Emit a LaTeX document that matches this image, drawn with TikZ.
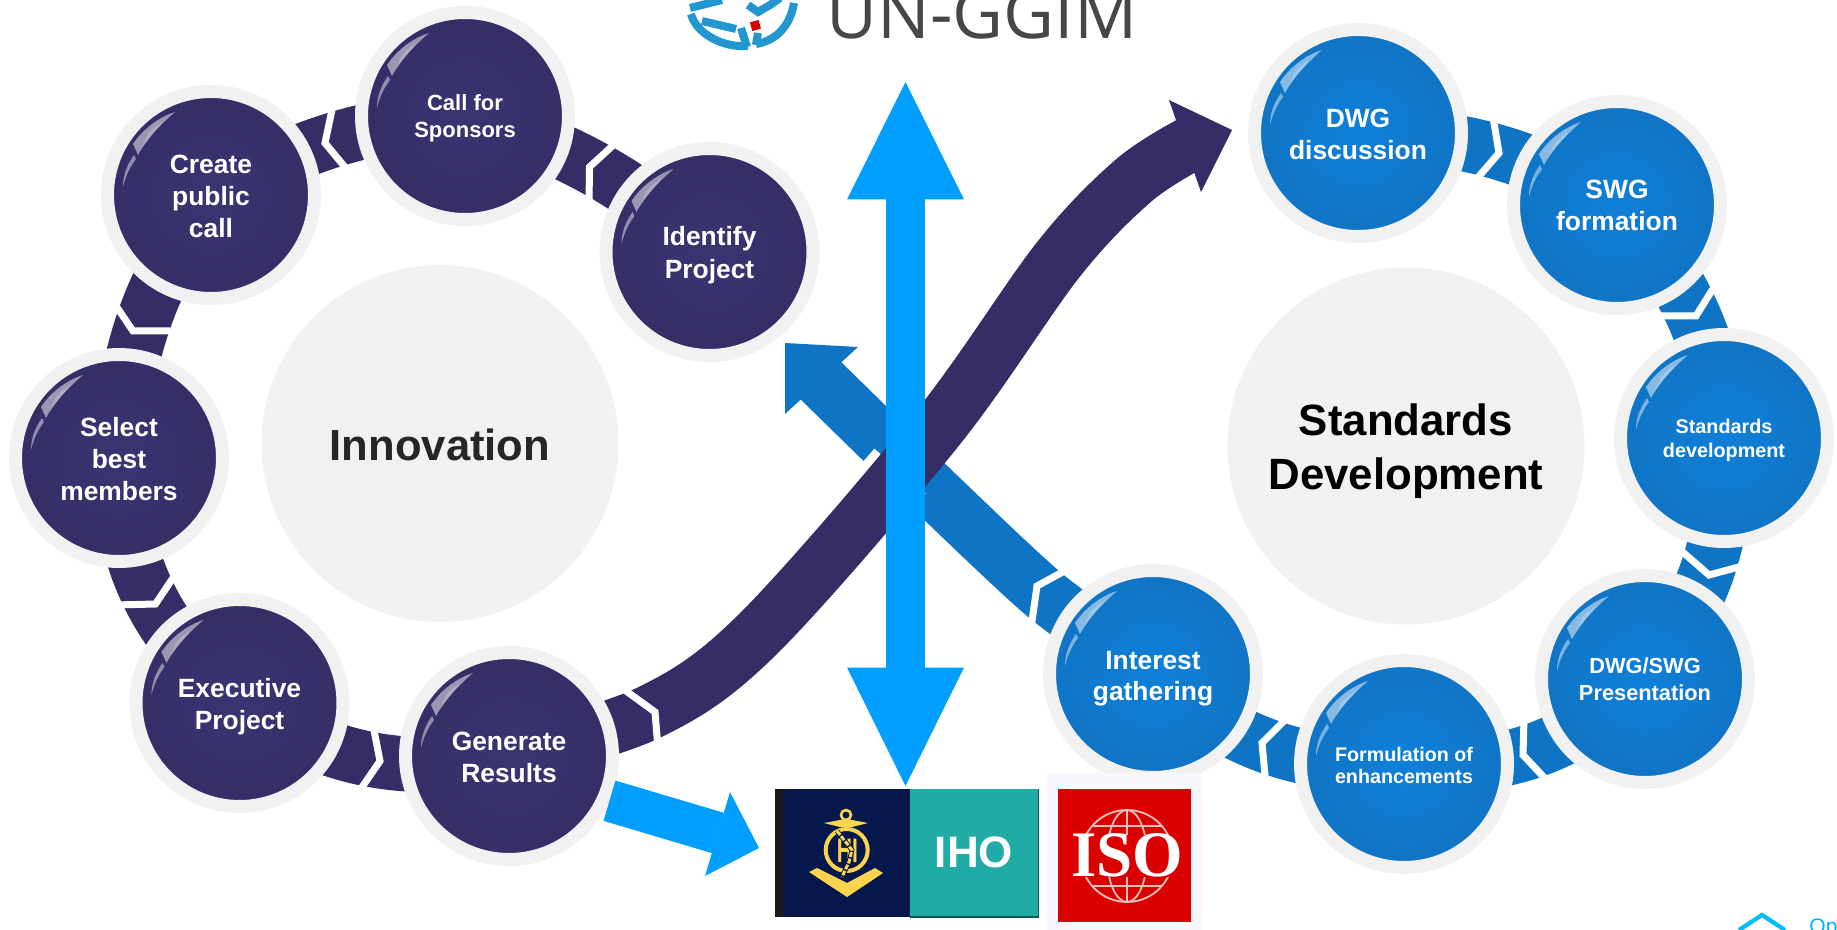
\documentclass[tikz,border=0pt]{standalone}
\usepackage{fontspec}
\setmainfont{Liberation Sans}
\newfontfamily\logofont{Open Sans}
\newfontfamily\slabfont{Liberation Serif}
\usetikzlibrary{backgrounds}
\definecolor{navyc}{HTML}{352E66}
\definecolor{navyl}{HTML}{3A3472}
\definecolor{blued}{HTML}{1074C4}
\definecolor{bluel}{HTML}{0F80DA}
\definecolor{bright}{HTML}{009FFF}
\definecolor{halo}{HTML}{F1F1F1}
\definecolor{ggim}{HTML}{2196CF}
\definecolor{gold}{HTML}{F9D44E}
\definecolor{ihonavy}{HTML}{06174B}
\definecolor{ihoteal}{HTML}{21ABA6}
\definecolor{isored}{HTML}{DB0000}
\tikzset{
  stage/.style={circle,minimum size=103.5pt,line width=6.5pt,draw=halo,inner sep=0pt,align=center,text=white,shading=radial},
  navystage/.style={stage,inner color=navyl,outer color=navyc},
  bluestage/.style={stage,inner color=bluel,outer color=blued},
  hub/.style={circle,fill=halo,minimum size=178.5pt,inner sep=0pt,align=center},
  linkn/.style={draw=navyc,line width=27.5pt},
  linkb/.style={draw=blued,line width=27.5pt},
  chev/.style={draw=white,line width=3.5pt,miter limit=10},
  gloss/.pic={
    \fill[white,opacity=.5] (-36,-83) .. controls (-52,-78) and (-68,-66) .. (-78,-51)
       -- (-73,-40) .. controls (-68,-50) and (-56,-66) .. cycle;
    \fill[white,opacity=.2] (-63,-61) .. controls (-58,-67) and (-52,-71) .. (-48,-73)
       .. controls (-54,-66) and (-62,-58) .. (-70,-45) -- cycle;
    \fill[white,opacity=.45] (-77,-40) .. controls (-84,-30) and (-88,-20) .. (-88,-8)
       .. controls (-85,-20) and (-81,-28) .. (-75,-36) -- cycle;
  }
}
\newcommand{\fsz}[2]{\fontsize{#1}{#2}\selectfont\bfseries}
\newcommand{\nudge}[1]{\rule{0pt}{#1}}
\begin{document}
\begin{tikzpicture}[x=.5pt,y=-.5pt]
\useasboundingbox (0,0) rectangle (1837,930);
\clip (0,0) rectangle (1837,930);
% hubs
\node[hub,font=\fsz{21.8}{27},text=black!85] (innov) at (440,443.5) {\nudge{17pt}Innovation};
\node[hub,font=\fsz{21.9}{27},text=black] (stdv) at (1406,446) {\nudge{21pt}Standards\\Development};
% left ring
\node[navystage,font=\fsz{13.2}{15.8}] (cr) at (211,195) {\nudge{10.6pt}Create\\public\\call};
\node[navystage,font=\fsz{11}{13.5}] (ca) at (465,116) {\nudge{10pt}Call for\\Sponsors};
\node[navystage,font=\fsz{13.2}{16.4}] (id) at (709.5,252) {\nudge{12.4pt}Identify\\Project};
\node[navystage,font=\fsz{13.2}{15.8}] (se) at (119,458) {\nudge{10.6pt}Select\\best\\members};
\node[navystage,font=\fsz{13.2}{16}] (ex) at (239.5,703) {\nudge{13pt}Executive\\Project};
\node[navystage,font=\fsz{13.2}{16}] (gr) at (509,756) {\nudge{10.4pt}Generate\\Results};
% right ring
\node[bluestage,font=\fsz{13.2}{16}] (dw) at (1358,133) {\nudge{10.6pt}DWG\\discussion};
\node[bluestage,font=\fsz{13.2}{16}] (sw) at (1617,205) {SWG\\formation};
\node[bluestage,font=\fsz{9.9}{11.7}] (sd) at (1724,438) {\nudge{9.6pt}Standards\\development};
\node[bluestage,font=\fsz{10.9}{13.5}] (ds) at (1645,679) {DWG/SWG\\Presentation};
\node[bluestage,font=\fsz{9.85}{11.3}] (fo) at (1404,764) {\nudge{8.6pt}Formulation of\\enhancements};
\node[bluestage,font=\fsz{13.2}{15.6}] (intr) at (1153,674) {\nudge{13.5pt}Interest\\gathering};
\foreach \c in {cr,ca,id,se,ex,gr,dw,sw,sd,ds,fo,intr}{\path (\c.center) pic {gloss};}
% IHO logo
\fill[ihonavy] (775,789) rectangle (910,917);
\fill[black!90] (775,789) rectangle (783,917);
\fill[ihoteal] (910,789) rectangle (1038.7,917);
\draw[ihoteal!50!black,line width=.6pt] (910,917) -- (1038.7,917) -- (1038.7,789);
\node[text=white,font=\fsz{22}{24},inner sep=0pt] (iho) at (974,852.5) {IHO};
% anchor emblem
\draw[gold,line width=2pt] (846.7,850) circle (21);
\draw[gold,line width=1.3pt] (846,815) circle (5);
\fill[gold] (824,823) -- (840,820) -- (852,820) -- (868,823) -- (852,827) -- (840,827) -- cycle;
\fill[gold] (809,872) -- (817,868) -- (847,883) -- (875,868) -- (883,873) -- (847,897) -- cycle;
\node[text=gold,font=\fsz{17}{18},inner sep=0pt] (hi) at (847.5,851) {\scalebox{.62}[1]{HI}};
\draw[ihonavy,line width=2.4pt] (837,831) -- (852,850) -- (849,862) -- (842,877);
\draw[gold,line width=1.5pt,dash pattern=on 2.5pt off .8pt] (837,831) -- (852,850) -- (849,862) -- (842,877);
% ISO logo
\fill[black!8!blue!3!white] (1047,773) rectangle (1202,930);
\fill[isored] (1058,789) rectangle (1191,922);
\begin{scope}[draw=white!75!isored,line width=.9pt]
  \draw (1127,856) circle (46);
  \draw (1127,856) ellipse (20 and 46);
  \draw (1127,810) -- (1127,902);
  \draw (1092,826) -- (1162,826);
  \draw (1092,886) -- (1162,886);
\end{scope}
\fill[isored] (1059,835) rectangle (1190,877);
\node[text=white,font=\slabfont\bfseries\fontsize{32.5}{34}\selectfont,inner sep=0pt] (iso) at (1127,855) {ISO};
% UN-GGIM logo
\node[anchor=base west,inner sep=0pt,text=black!72,font=\logofont\fontsize{35}{37}\selectfont] (un) at (826,38.5) {UN-GGIM};
\begin{scope}[draw=ggim,line width=4pt]
  \draw (690,8) -- (722,0);
  \draw (691,14) .. controls (696,33) and (722,48) .. (748,46);
  \draw (702,21) -- (736,29);
  \draw (741,28) -- (747,47);
  \draw (756,44) .. controls (775,41) and (790,27) .. (794,3);
  \draw (758,33) -- (756,45);
  \draw (748,5) -- (758,12) -- (770,5) -- (780,-2);
\end{scope}
\fill[isored,rotate around={15:(755.5,25.7)}] (751,21) rectangle (760,30);
% bottom right mark
\draw[draw=bright!70!cyan,line width=2.1pt] (1739,930) -- (1762,915) -- (1785,930);
\node[anchor=base west,inner sep=0pt,text=bright!80!cyan,font=\fontsize{10.5}{12}\selectfont] (op) at (1809,933) {Op};
% arrow to logos and the vertical double arrow
\coordinate (hb) at (718,833);
\draw[bright,line width=21pt] (gr.-24) -- (hb);
\fill[bright] (730,792) -- (759,848) -- (705,876) -- cycle;
\coordinate (vtop) at (905.5,199);
\coordinate (vbot) at (905.5,668);
\draw[bright,line width=19.5pt] (vtop) -- (vbot);
\fill[bright] (847,199.5) -- (905.5,82) -- (964,199.5) -- cycle;
\fill[bright] (847,667.5) -- (905.5,786) -- (964,667.5) -- cycle;
\begin{scope}[on background layer]
  \fill[white] (0,0) rectangle (1837,930);
  % left ring links
  \draw[linkn] (id.center) to[bend right=12] (ca.center);
  \draw[linkn] (ca.center) to[bend right=12] (cr.center);
  \draw[linkn] (cr.center) to[bend right=15.6] (se.center);
  \draw[linkn] (se.center) to[bend right=25] (ex.center);
  \draw[linkn] (ex.center) to[bend right=22] (gr.center);
  \draw[chev] (620,139) -- (589.5,167) -- (589,204);
  \draw[chev] (333,105) -- (325,143) -- (349,172);
  \draw[chev] (110,297) -- (133,331) -- (170,331);
  \draw[chev] (177,572) -- (155.5,604) -- (115,605);
  \draw[chev] (373,725) -- (380,761) -- (356,796);
  % right ring links
  \draw[linkb] (dw.center) to[bend left=14] (sw.center);
  \draw[linkb] (sw.center) to[bend left=18] (sd.center);
  \draw[linkb] (sd.center) to[bend left=20] (ds.center);
  \draw[linkb] (ds.center) to[bend left=24] (fo.center);
  \draw[linkb] (fo.center) to[bend left=22] (intr.center);
  \draw[chev] (1492,111) -- (1499,153) -- (1474,182);
  \draw[chev] (1719,279) -- (1696,316) -- (1656,316);
  \draw[chev] (1678,548) -- (1709,575) -- (1750,564);
  \draw[chev] (1524,718) -- (1523,755) -- (1553,787);
  \draw[chev] (1291,714) -- (1262,743) -- (1266,786);
  % long arrows
  \coordinate (dbase) at (812,372);
  \draw[blued,line width=27.5pt] plot[smooth,tension=.4] coordinates {(intr.center) (1046,596) (940,497) (dbase)};
  \fill[blued] (858,347) -- (785,343) -- (785,414) -- cycle;
  \draw[chev] (1070,568) -- (1037,586) -- (1031,628);
  \draw[white,line width=34pt] (800,586) -- (900,471);
  \coordinate (nbase) at (1190,144);
  \draw[navyc,line width=27.5pt] plot[smooth,tension=.55] coordinates {(gr.center) (648,713) (757,635) (937,429) (1058,260) (1133,181) (nbase)};
  \fill[navyc] (1169,100) -- (1232,130) -- (1201,192) -- cycle;
  \draw[chev] (622,688) -- (655,712) -- (658,748);
\end{scope}
\end{tikzpicture}
\end{document}
